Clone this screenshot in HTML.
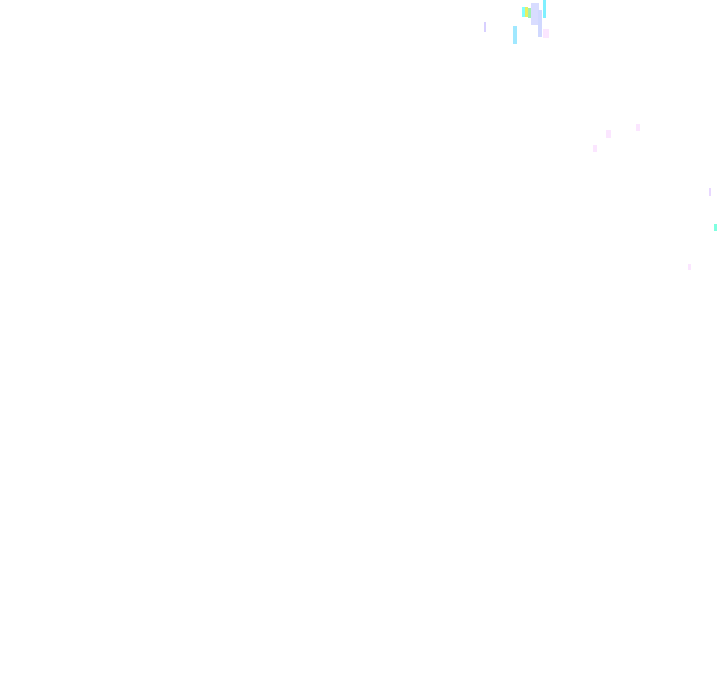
<!DOCTYPE html>
<html><head><meta charset="utf-8"><style>
html,body{margin:0;padding:0;background:#fff;width:720px;height:692px;overflow:hidden;position:relative}
i{position:absolute;display:block}
</style></head><body>
<i style="left:522px;top:7px;width:3px;height:10px;background:#7fffff"></i>
<i style="left:525px;top:7px;width:3px;height:10px;background:#e8f060"></i>
<i style="left:528px;top:8px;width:3px;height:10px;background:#9ff0b0"></i>
<i style="left:531px;top:3px;width:8px;height:22px;background:#d8dcff"></i>
<i style="left:543px;top:0px;width:3px;height:18px;background:#7ff0ff"></i>
<i style="left:538px;top:10px;width:4px;height:27px;background:#d0d8ff"></i>
<i style="left:484px;top:22px;width:2px;height:10px;background:#d8d0ff"></i>
<i style="left:513px;top:26px;width:4px;height:18px;background:#a0e8ff"></i>
<i style="left:543px;top:29px;width:6px;height:9px;background:#fbe6ff"></i>
<i style="left:593px;top:145px;width:4px;height:7px;background:#fbe6ff"></i>
<i style="left:606px;top:130px;width:5px;height:8px;background:#fbe6ff"></i>
<i style="left:636px;top:124px;width:4px;height:7px;background:#fbe6ff"></i>
<i style="left:709px;top:188px;width:2px;height:8px;background:#e8d8ff"></i>
<i style="left:714px;top:224px;width:3px;height:7px;background:#7fffe0"></i>
<i style="left:688px;top:264px;width:3px;height:6px;background:#fbe6ff"></i>
</body></html>
